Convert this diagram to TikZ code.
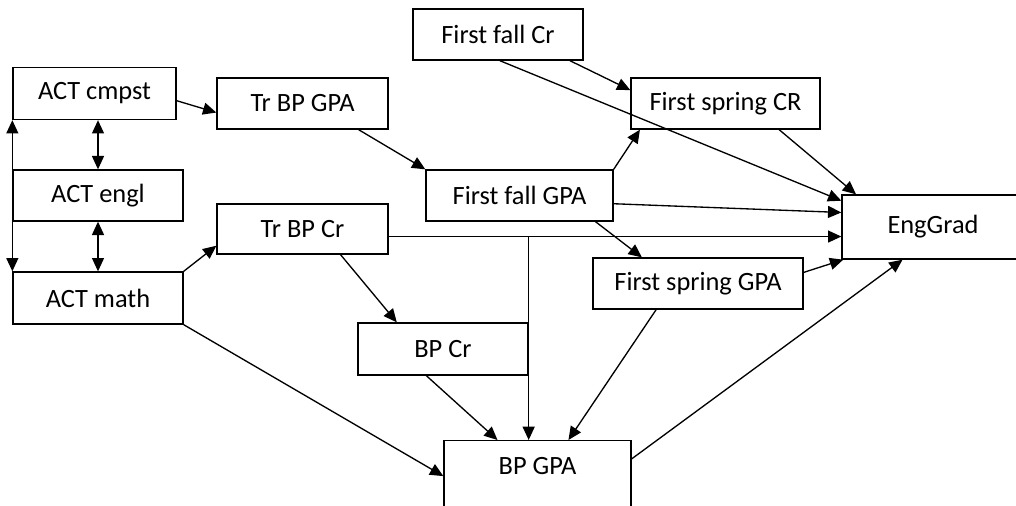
\documentclass[tikz,border=0pt]{standalone}
\usepackage{fontspec}
\setmainfont{Carlito}
\usetikzlibrary{arrows.meta}
\begin{document}
\begin{tikzpicture}[x=0.75pt,y=-0.75pt,
	box/.style={draw,line width=1pt,minimum width=127.5pt,minimum height=38.25pt,font=\fontsize{19.8}{24}\selectfont},
	arr/.style={-{Triangle[length=10pt,width=9pt]},line width=1pt},
	dblarr/.style={{Triangle[length=10pt,width=9pt]}-{Triangle[length=10pt,width=9pt]},line width=1pt}]
	\useasboundingbox (0,0) rectangle (1016,506);
	\clip (0,0) rectangle (1016,506);
	% ACT scores
	\node [box,minimum width=122.25pt,minimum height=39pt] (cmpst) at (94.5,93.5) {ACT cmpst};
	\node [box] (engl) at (98,195.5) {ACT engl};
	\node [box,minimum height=39pt] (math) at (98,298) {ACT math};
	% transfer
	\node [box,minimum width=128.25pt] (trgpa) at (302.5,103.5) {Tr BP GPA};
	\node [box,minimum width=128.25pt,minimum height=37.5pt] (trcr) at (302.5,229) {Tr BP Cr};
	% first year
	\node [box] (fallcr) at (498,34.5) {First fall Cr};
	\node [box,minimum width=141.75pt] (springcr) at (725.5,103.5) {First spring CR};
	\node [box,minimum width=140.25pt] (fallgpa) at (519.5,195.5) {First fall GPA};
	\node [box,minimum width=157.5pt] (springgpa) at (698,283.5) {First spring GPA};
	% BP
	\node [box,minimum height=39pt] (bpcr) at (443,349) {BP Cr};
	\node [box,anchor=north,minimum width=140.25pt,inner ysep=0pt,text height=25.5pt,text depth=45pt] (bpgpa) at (537.5,440) {BP GPA};
	\node [box,minimum width=136.5pt,minimum height=48pt] (enggrad) at (933,227) {EngGrad};
	% correlations
	\draw [dblarr] (cmpst.south west) -- (math.north west);
	\draw [dblarr] (engl.north) -- (engl.north |- cmpst.south);
	\draw [dblarr] (engl.south) -- (engl.south |- math.north);
	% paths
	\draw [arr] (cmpst.-5) -- (trgpa.186);
	\draw [arr] (math.north east) -- (trcr.191);
	\draw [arr] (math.south east) -- (bpgpa.173);
	\draw [arr] (trgpa.-25) -- (fallgpa.north west);
	\draw [arr] (trcr.-34) -- (bpcr.150);
	\draw [arr] (trcr.-5) -- (trcr.-5 -| enggrad.west);
	\coordinate (split) at (bpcr.east |- trcr.-5);
	\draw [arr] (split) -- (split |- bpgpa.north);
	\draw [arr] (fallcr.-20) -- (springcr.172);
	\draw [arr] (fallcr.-86) -- (enggrad.164);
	\draw [arr] (fallgpa.north east) -- (springcr.197);
	\draw [arr] (fallgpa.-5) -- (enggrad.171);
	\draw [arr] (fallgpa.-19) -- (springgpa.155);
	\draw [arr] (springcr.-26) -- (enggrad.157);
	\draw [arr] (springgpa.6) -- (enggrad.200);
	\draw [arr] (springgpa.212) -- (bpgpa.57);
	\draw [arr] (bpcr.238) -- (bpgpa.130);
	\draw [arr] (bpgpa.17) -- (enggrad.227);
\end{tikzpicture}
\end{document}
